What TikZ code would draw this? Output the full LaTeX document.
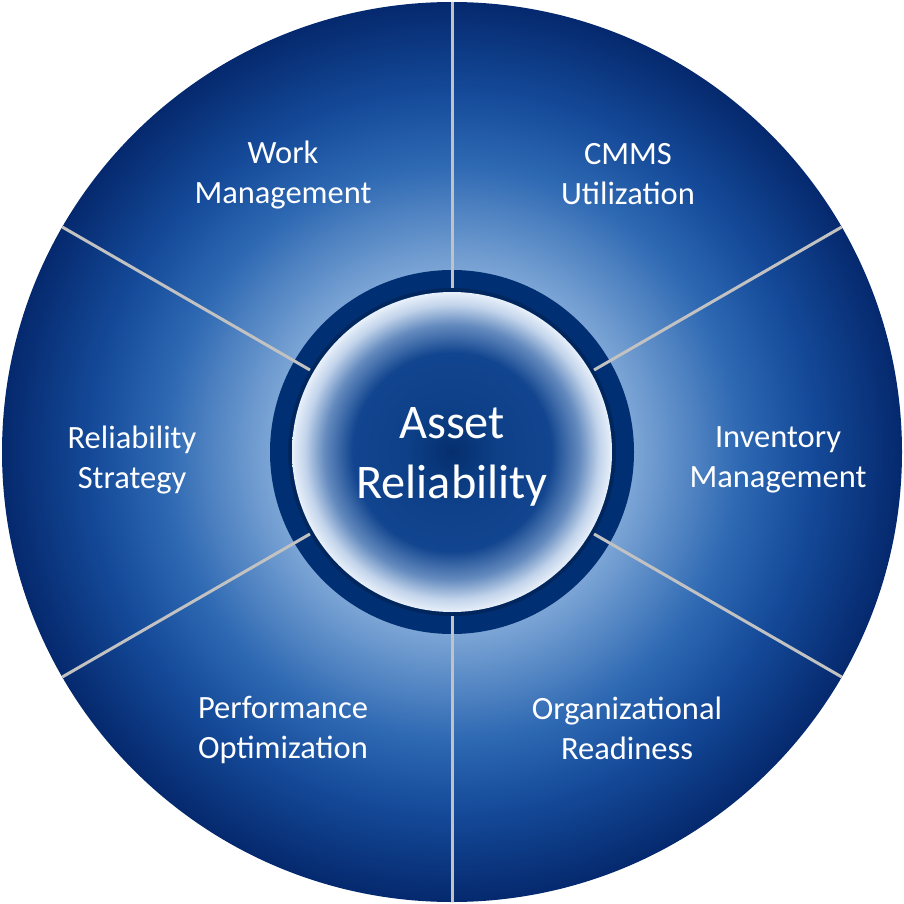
\documentclass[tikz,border=0pt]{standalone}
\usepackage{fontspec}
\setmainfont{Carlito}
\definecolor{ringblue}{rgb}{0.0,0.19,0.45}
\definecolor{ringdark}{rgb}{0.0,0.15,0.37}
\definecolor{spoke}{rgb}{0.76,0.76,0.76}
\pgfdeclareradialshading{outerdisk}{\pgfpoint{0bp}{0bp}}{%
  rgb(0bp)=(0.67,0.78,0.92);
  rgb(10bp)=(0.49,0.65,0.84);
  rgb(12.5bp)=(0.36,0.55,0.78);
  rgb(16bp)=(0.18,0.41,0.70);
  rgb(20bp)=(0.08,0.29,0.60);
  rgb(25bp)=(0.02,0.16,0.43);
  rgb(50bp)=(0.02,0.16,0.43)}
\pgfdeclareradialshading{innerdisk}{\pgfpoint{0bp}{0bp}}{%
  rgb(0bp)=(0.02,0.18,0.43);
  rgb(7bp)=(0.05,0.25,0.53);
  rgb(15.5bp)=(0.07,0.27,0.56);
  rgb(20bp)=(0.40,0.55,0.75);
  rgb(23bp)=(0.76,0.83,0.92);
  rgb(25bp)=(0.91,0.94,0.98);
  rgb(50bp)=(0.91,0.94,0.98)}
\tikzset{
  disk/.style={circle, inner sep=0pt, outer sep=0pt},
  spokeline/.style={draw=spoke, line width=3pt},
  lbl/.style={text=white, align=center, font=\fontsize{32.5}{40}\selectfont},
  hub/.style={text=white, align=center, font=\fontsize{48.3}{60}\selectfont},
}
\begin{document}
\begin{tikzpicture}[x=1pt,y=-1pt]
\useasboundingbox (0,0) rectangle (904,904);
\node[disk, minimum size=900pt, shading=outerdisk] (outer) at (452,452) {};
\node[disk, minimum size=364pt, fill=ringblue] (ring) at (452,452) {};
\node[disk, minimum size=328pt, fill=ringdark] (ringin) at (452,452) {};
\foreach \a in {90,30,-30,-90,150,210}{
  \draw[spokeline] (ringin.\a) -- (outer.\a);
}
\node[disk, minimum size=320pt, shading=innerdisk] (inner) at (452,452) {};
\node[hub] (hubtext) at (452,457) {Asset\\Reliability};
\node[lbl] (work) at (283,175) {Work\\Management};
\node[lbl] (cmms) at (628,174) {CMMS\\Utilization};
\node[lbl] (inv) at (778,460) {Inventory\\Management};
\node[lbl] (rel) at (132,460) {Reliability\\Strategy};
\node[lbl] (perf) at (283,730) {Performance\\Optimization};
\node[lbl] (org) at (627,728) {Organizational\\Readiness};
\end{tikzpicture}
\end{document}
